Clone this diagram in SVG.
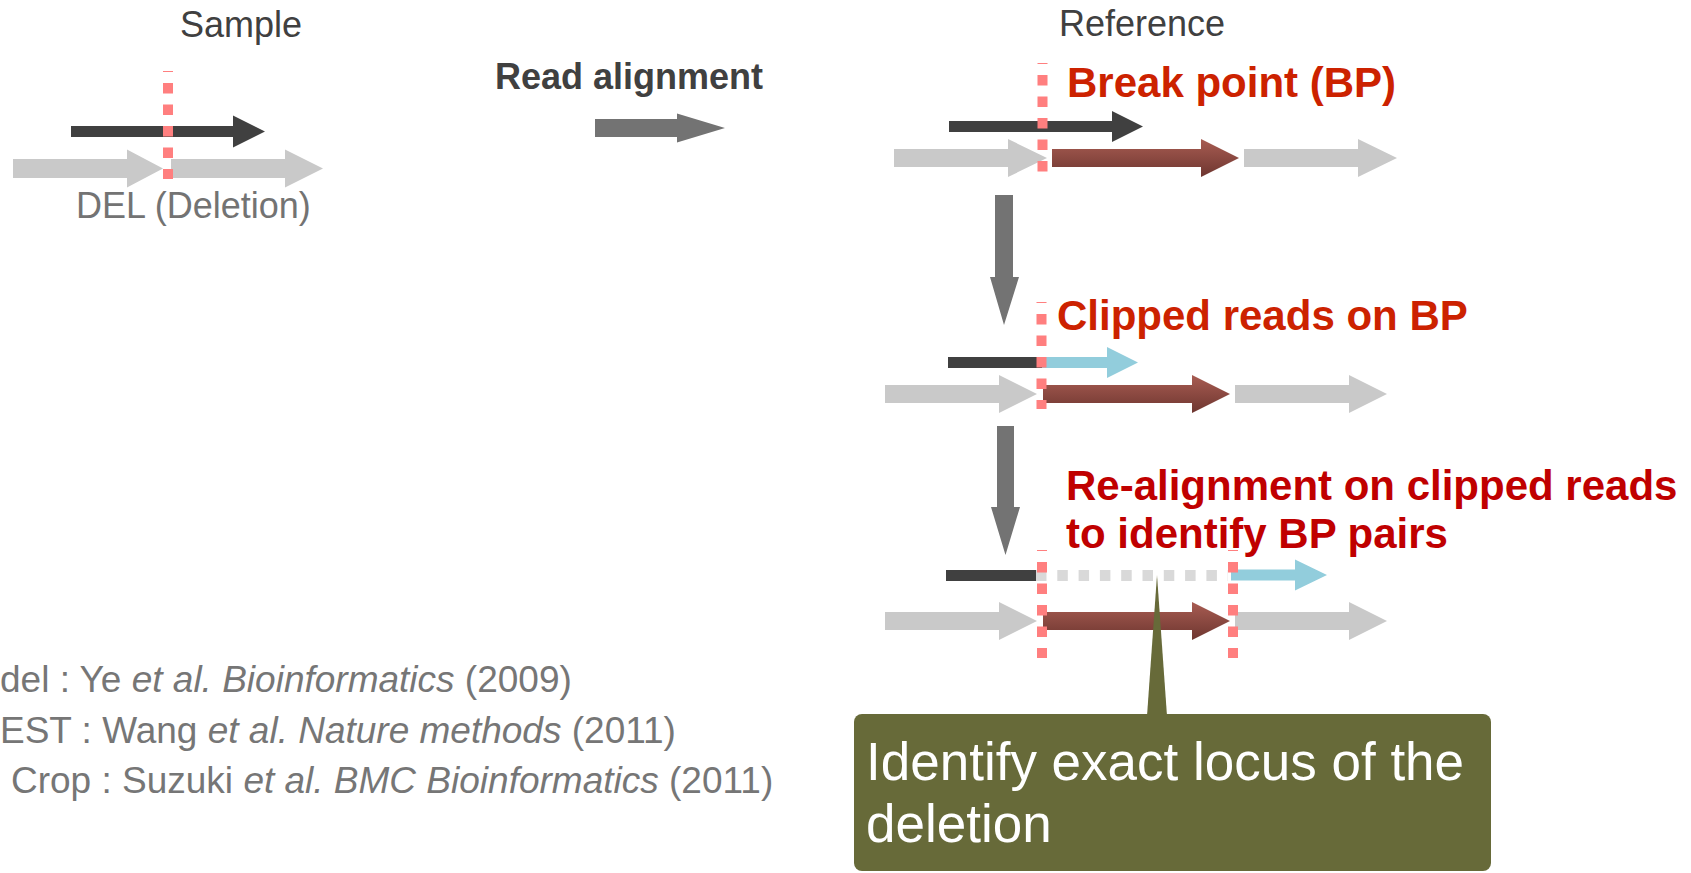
<svg xmlns="http://www.w3.org/2000/svg" width="1691" height="873" viewBox="0 0 1691 873">
<defs>
<linearGradient id="brownGrad" x1="0" y1="0" x2="0" y2="1">
<stop offset="0" stop-color="#A85C52"/>
<stop offset="1" stop-color="#6E3630"/>
</linearGradient>
</defs>
<style>
.txt{font-family:"Liberation Sans",Arial,sans-serif;}
.hdr{font-size:36px;fill:#404040;}
.del{font-size:36px;fill:#737373;}
.bold{font-weight:bold;}
.red1{font-size:42px;fill:#CC2200;font-weight:bold;}
.red2{font-size:42px;fill:#C00000;font-weight:bold;}
.cite{font-size:37px;fill:#767676;}
.it{font-style:italic;}
.dark{fill:#404040;}
.gray{fill:#C9C9C9;}
.mid{fill:#737373;}
.brown{fill:url(#brownGrad);}
.blue{fill:#92CDDC;}
.bp{stroke:#FF7F7F;stroke-width:10;fill:none;stroke-dasharray:10.5 11;stroke-dashoffset:9.5;}
.gap{stroke:#D9D9D9;stroke-width:11;fill:none;stroke-dasharray:10.5 10.8;}
.callout{fill:#676A39;}
.ctext{font-size:53px;fill:#FFFFFF;}
</style>

<g id="sample">
<text class="txt hdr" x="180" y="37">Sample</text>
<polygon class="gray" points="13,159 127,159 127,149.5 163,168.5 127,187.5 127,178 13,178"/>
<polygon class="gray" points="171,159 285,159 285,149.5 323,168.5 285,187.5 285,178 171,178"/>
<polygon class="dark" points="71,126 233,126 233,115.5 265,131.5 233,147.5 233,137 71,137"/>
<line class="bp" x1="168" y1="71" x2="168" y2="179"/>
<text class="txt del" x="76" y="218">DEL (Deletion)</text>
</g>

<g id="read-alignment">
<text class="txt hdr bold" x="495" y="89">Read alignment</text>
<polygon class="mid" points="595,119 677,119 677,113.5 725,128 677,142.5 677,137 595,137"/>
</g>

<g id="reference-row1">
<text class="txt hdr" x="1059" y="36">Reference</text>
<polygon class="gray" points="894,149 1008,149 1008,139 1047,158 1008,177 1008,167 894,167"/>
<polygon class="brown" points="1052,149 1201,149 1201,139 1239,158 1201,177 1201,167 1052,167"/>
<polygon class="gray" points="1244,149 1358,149 1358,139 1397,158 1358,177 1358,167 1244,167"/>
<polygon class="dark" points="949,121 1112,121 1112,111 1143,126.5 1112,142 1112,132 949,132"/>
<line class="bp" x1="1042.5" y1="63" x2="1042.5" y2="172"/>
<text class="txt red1" x="1067" y="97">Break point (BP)</text>
</g>

<g id="reference-row2">
<polygon class="gray" points="885,385 999,385 999,375 1037,394 999,413 999,403 885,403"/>
<polygon class="brown" points="1043,385 1192,385 1192,375 1230,394 1192,413 1192,403 1043,403"/>
<polygon class="gray" points="1235,385 1349,385 1349,375 1387,394 1349,413 1349,403 1235,403"/>
<rect class="dark" x="948" y="357" width="94" height="11"/>
<polygon class="blue" points="1042,357 1107,357 1107,347 1138,362.5 1107,378 1107,368 1042,368"/>
<line class="bp" x1="1041.5" y1="302" x2="1041.5" y2="409"/>
<text class="txt red1" x="1057" y="330">Clipped reads on BP</text>
</g>

<g id="reference-row3">
<polygon class="gray" points="885,612 999,612 999,602 1037,621 999,640 999,630 885,630"/>
<polygon class="brown" points="1043,612 1192,612 1192,602 1230,621 1192,640 1192,630 1043,630"/>
<polygon class="gray" points="1235,612 1349,612 1349,602 1387,621 1349,640 1349,630 1235,630"/>
<rect class="dark" x="946" y="570" width="90" height="11"/>
<line class="gap" x1="1036" y1="575.5" x2="1228" y2="575.5"/>
<polygon class="blue" points="1231,569.5 1295,569.5 1295,559.5 1327,575 1295,590.5 1295,580.5 1231,580.5"/>
<line class="bp" x1="1042" y1="550" x2="1042" y2="658"/>
<line class="bp" x1="1233" y1="550" x2="1233" y2="658"/>
<text class="txt red2" x="1066" y="500">Re-alignment on clipped reads</text>
<text class="txt red2" x="1066" y="548">to identify BP pairs</text>
</g>

<g id="connectors">
<polygon class="mid" points="995,195 1013,195 1013,277 1019,277 1004,325 990,277 995,277"/>
<polygon class="mid" points="997,426 1014,426 1014,507 1020,507 1005.5,555 991,507 997,507"/>
</g>

<g id="citations">
<text class="txt cite" x="0" y="692">del : Ye <tspan class="it">et al. Bioinformatics</tspan> (2009)</text>
<text class="txt cite" x="0" y="743">EST : Wang <tspan class="it">et al. Nature methods</tspan> (2011)</text>
<text class="txt cite" x="11" y="793">Crop : Suzuki <tspan class="it">et al. BMC Bioinformatics</tspan> (2011)</text>
</g>

<g id="callout">
<polygon class="callout" points="1147,716 1157,575 1167,716"/>
<rect class="callout" x="854" y="714" width="637" height="157" rx="8" ry="8"/>
<text class="txt ctext" x="866" y="780">Identify exact locus of the</text>
<text class="txt ctext" x="866" y="842">deletion</text>
</g>
</svg>
